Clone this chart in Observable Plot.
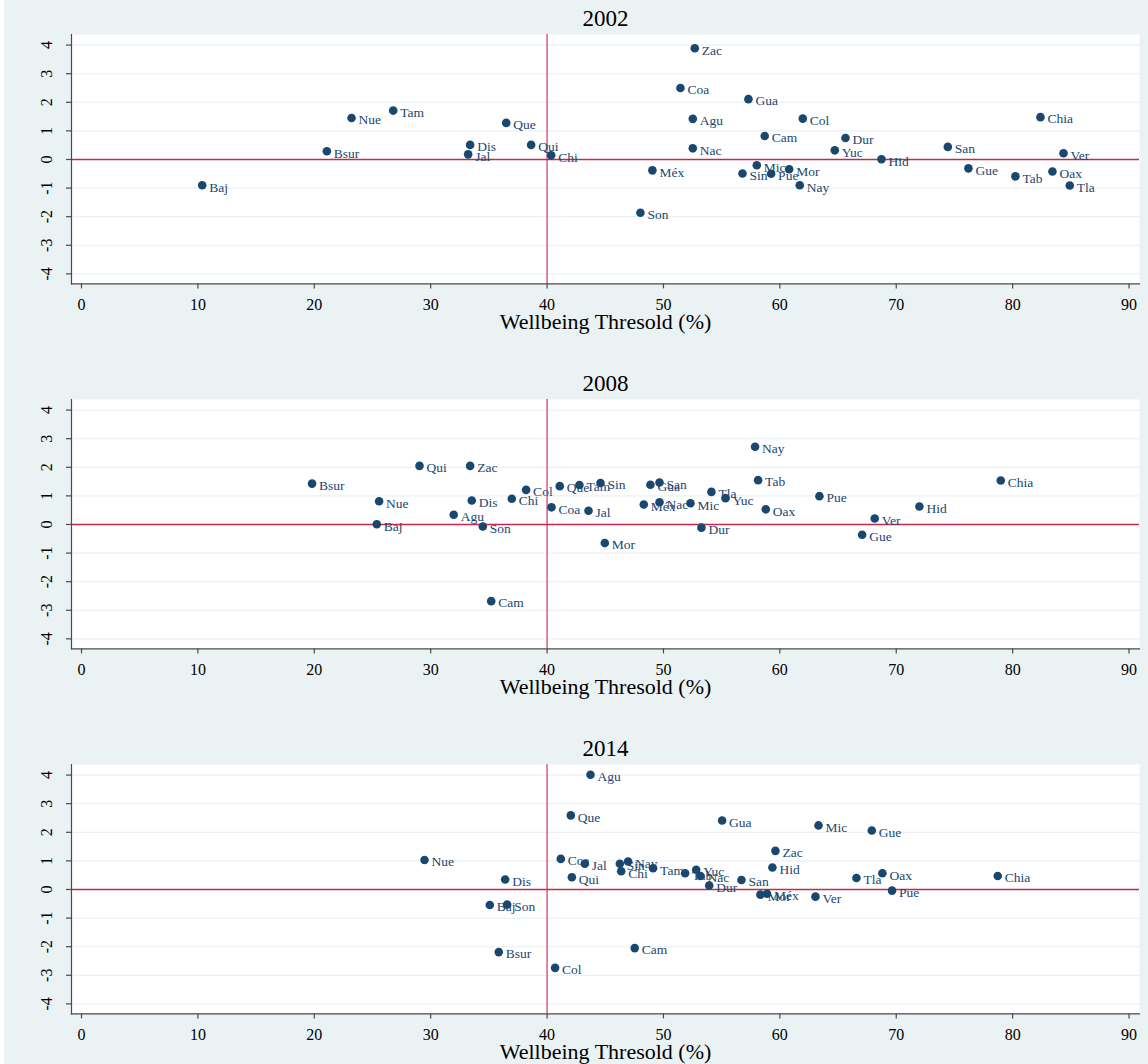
<!DOCTYPE html>
<html>
<head>
<meta charset="utf-8">
<script src="https://cdn.jsdelivr.net/npm/d3@7"></script>
<script src="https://cdn.jsdelivr.net/npm/@observablehq/plot@0.6"></script>
<style>
  html, body { margin: 0; padding: 0; background: #ffffff; }
  #chart { padding-left: 4px; width: 1144px; }
  #chart svg { display: block; font-family: "Liberation Serif", "Times New Roman", serif !important; }
  #chart svg text { font-family: "Liberation Serif", "Times New Roman", serif !important; }
</style>
</head>
<body>
<div id="chart"></div>
<script>
// ---- Data ----
const years = ["2002", "2008", "2014"];
const xTicks = [0, 10, 20, 30, 40, 50, 60, 70, 80, 90];
const yTicks = [-4, -3, -2, -1, 0, 1, 2, 3, 4];
const xLabel = "Wellbeing Thresold (%)";
const refX = 40;   // vertical reference line
const refY = 0;    // horizontal reference line

const states2002 = ["Baj","Bsur","Nue","Tam","Que","Dis","Jal","Qui","Chi","Zac","Coa","Gua","Agu","Nac","Méx","Son","Sin","Mic","Pue","Mor","Nay","Col","Cam","Dur","Yuc","Hid","San","Gue","Tab","Chia","Ver","Oax","Tla"];
const x2002 = [10.37,21.08,23.2,26.78,36.49,33.39,33.22,38.63,40.35,52.69,51.46,57.3,52.52,52.52,49.05,48.02,56.79,58.02,59.25,60.8,61.71,61.97,58.7,65.64,64.72,68.73,74.43,76.2,80.24,82.39,84.37,83.42,84.91];
const y2002 = [-0.9,0.29,1.45,1.71,1.28,0.51,0.18,0.51,0.15,3.89,2.5,2.11,1.42,0.39,-0.38,-1.86,-0.49,-0.2,-0.5,-0.34,-0.9,1.43,0.82,0.75,0.32,0.01,0.44,-0.31,-0.59,1.48,0.22,-0.42,-0.91];

const states2008 = ["Bsur","Nue","Baj","Qui","Zac","Dis","Agu","Son","Chi","Col","Coa","Que","Tam","Sin","Jal","Mor","Cam","Gua","San","Méx","Nac","Mic","Tla","Yuc","Dur","Nay","Tab","Oax","Pue","Ver","Gue","Hid","Chia"];
const x2008 = [19.81,25.57,25.37,29.04,33.39,33.53,31.98,34.48,36.97,38.2,40.38,41.09,42.78,44.59,43.56,44.96,35.2,48.88,49.66,48.31,49.66,52.32,54.12,55.33,53.26,57.87,58.13,58.79,63.4,68.15,67.07,71.99,78.98];
const y2008 = [1.43,0.81,0.01,2.05,2.05,0.84,0.34,-0.07,0.9,1.21,0.6,1.34,1.38,1.45,0.48,-0.65,-2.68,1.39,1.47,0.7,0.78,0.74,1.14,0.92,-0.11,2.72,1.55,0.53,0.99,0.21,-0.36,0.63,1.54];

const states2014 = ["Agu","Que","Gua","Nue","Coa","Jal","Sin","Nay","Chi","Tam","Qui","Dis","Tab","Yuc","Nac","Dur","San","Baj","Son","Bsur","Col","Cam","Mor","Méx","Mic","Gue","Zac","Hid","Tla","Oax","Chia","Pue","Ver"];
const x2014 = [43.73,42.04,55.04,29.47,41.18,43.24,46.25,46.96,46.37,49.11,42.13,36.4,51.86,52.81,53.18,53.93,56.7,35.08,36.57,35.85,40.69,47.53,58.33,58.9,63.32,67.9,59.62,59.36,66.58,68.81,78.72,69.64,63.06];
const y2014 = [4.01,2.59,2.41,1.03,1.07,0.9,0.9,0.98,0.64,0.74,0.43,0.35,0.57,0.69,0.47,0.14,0.33,-0.54,-0.53,-2.19,-2.74,-2.05,-0.18,-0.15,2.24,2.06,1.35,0.77,0.4,0.57,0.47,-0.04,-0.25];

// ---- Styling ----
const bg = "#eaf2f3";
const navy = "#1a476f";
const red = "#c8284e";
const axisColor = "#4a4a4a";
const font = "Liberation Serif";

const panels = [
  {year: years[0], states: states2002, xs: x2002, ys: y2002, height: 365},
  {year: years[1], states: states2008, xs: x2008, ys: y2008, height: 365},
  {year: years[2], states: states2014, xs: x2014, ys: y2014, height: 334}
];

const chart = document.getElementById("chart");

for (const p of panels) {
  const data = p.states.map((s, i) => ({state: s, x: p.xs[i], y: p.ys[i]}));
  const marginTop = 34;
  const plotH = 249.4;
  const svg = Plot.plot({
    width: 1144,
    height: p.height,
    marginLeft: 67,
    marginRight: 9,
    marginTop: marginTop,
    marginBottom: p.height - marginTop - plotH,
    style: {background: bg, color: "#000"},
    x: {domain: [-0.86, 90.9], label: null},
    y: {domain: [-4.35, 4.37], label: null},
    marks: [
      Plot.frame({fill: "white", stroke: null}),
      Plot.gridY(yTicks, {stroke: bg, strokeOpacity: 1, strokeWidth: 1.2}),
      Plot.ruleY([refY], {stroke: red, strokeWidth: 1.4}),
      Plot.ruleX([refX], {stroke: red, strokeWidth: 1.4, strokeOpacity: 0.8}),
      Plot.frame({anchor: "left", stroke: axisColor, strokeWidth: 1.2}),
      Plot.frame({anchor: "bottom", stroke: axisColor, strokeWidth: 1.2}),
      Plot.axisX({ticks: xTicks, tickSize: 5, tickPadding: 10, fontSize: 16, fontFamily: font, label: null, stroke: axisColor, strokeWidth: 1.2, tickFormat: d => String(d)}),
      Plot.axisY({ticks: yTicks, tickSize: 5, tickPadding: 15, tickRotate: -90, fontSize: 16, fontFamily: font, label: null, stroke: axisColor, strokeWidth: 1.2, tickFormat: d => String(d)}),
      Plot.dot(data, {x: "x", y: "y", r: 4.3, fill: navy, stroke: null}),
      Plot.text(data, {x: "x", y: "y", text: "state", textAnchor: "start", lineAnchor: "middle", dx: 7, dy: 2, fill: navy, fontSize: 13.5, fontFamily: font}),
      Plot.text([p.year], {frameAnchor: "top", dy: -15.5, lineAnchor: "middle", fontSize: 23, fontFamily: font, fill: "#000"}),
      Plot.text([xLabel], {frameAnchor: "bottom", dy: 38, lineAnchor: "middle", fontSize: 22, fontFamily: font, fill: "#000"})
    ]
  });
  chart.appendChild(svg);
}
</script>
</body>
</html>
